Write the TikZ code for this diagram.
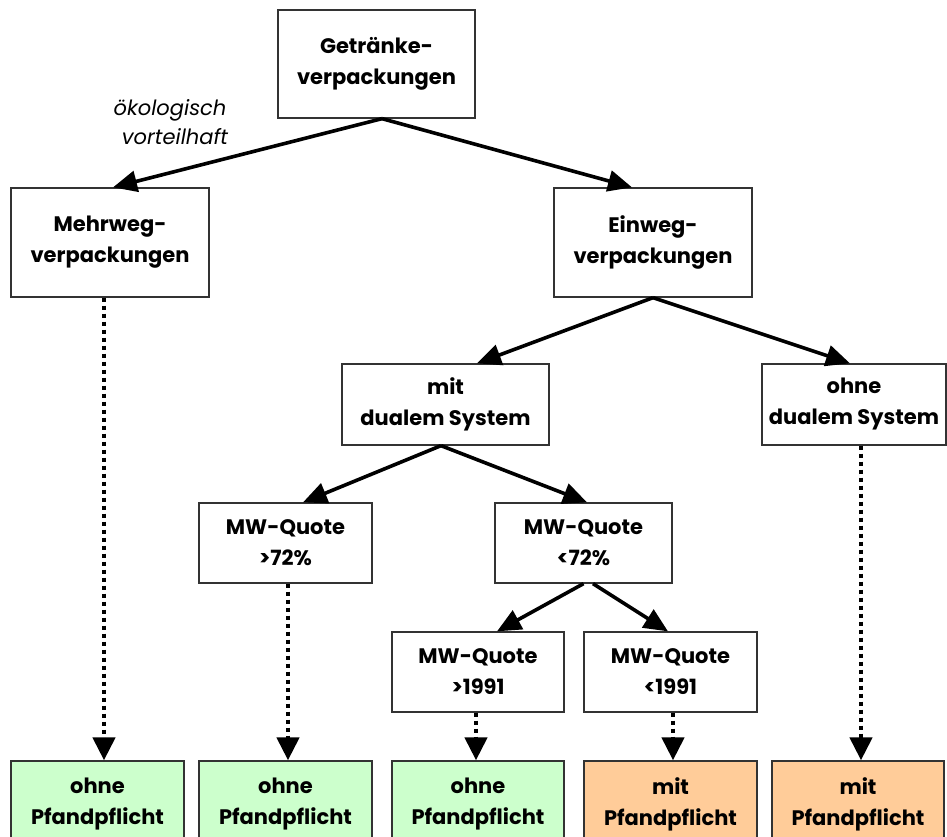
\documentclass[tikz,border=0pt]{standalone}
\usepackage{fontspec}
\setmainfont{Poppins}
\usetikzlibrary{arrows.meta}
\definecolor{pfgruen}{HTML}{CCFFCC}
\definecolor{pforange}{HTML}{FFCC99}
\begin{document}
\begin{tikzpicture}[x=1pt,y=-1pt,
  box/.style={draw=black!80, line width=1.3pt, align=center, inner sep=0pt,
    font=\fontsize{21}{31}\selectfont\bfseries},
  arr/.style={line width=3.6pt, -{Triangle[length=24pt,width=21pt]}},
  dotarr/.style={line width=4.5pt, dash pattern=on 4pt off 4pt, -{Triangle[length=23pt,width=22pt]}}]
\useasboundingbox (0,0) rectangle (947,837);
\clip (0,0) rectangle (947,837);
\fill[white] (0,0) rectangle (947,837);

\node[box, minimum width=197pt, minimum height=108pt] (top) at (376.5,64) {Getränke-\\verpackungen};
\node[box, minimum width=198pt, minimum height=109pt] (mehr) at (110,242.5) {Mehrweg-\\verpackungen};
\node[box, minimum width=198pt, minimum height=109pt] (ein) at (653,242.5) {Einweg-\\verpackungen};
\node[box, minimum width=207pt, minimum height=81pt] (mitd) at (445.5,404.5) {mit\\dualem System};
\node[box, minimum width=184pt, minimum height=81pt] (ohned) at (854,404.5) {ohne\\dualem System};
\node[box, minimum width=173pt, minimum height=80pt] (mwa) at (285.5,543) {MW-Quote\\>72\%};
\node[box, minimum width=177pt, minimum height=80pt] (mwb) at (583.5,543) {MW-Quote\\<72\%};
\node[box, minimum width=172pt, minimum height=80pt] (mwc) at (478,672) {MW-Quote\\>1991};
\node[box, minimum width=173pt, minimum height=80pt] (mwd) at (670.5,672) {MW-Quote\\<1991};

\node[box, fill=pfgruen, minimum width=173pt, minimum height=86pt] (b1) at (97.5,804) {ohne\\Pfandpflicht};
\node[box, fill=pfgruen, minimum width=173pt, minimum height=86pt] (b2) at (285.5,804) {ohne\\Pfandpflicht};
\node[box, fill=pfgruen, minimum width=172pt, minimum height=86pt] (b3) at (478,804) {ohne\\Pfandpflicht};
\node[box, fill=pforange, minimum width=173pt, minimum height=86pt] (b4) at (670.5,804) {mit\\Pfandpflicht};
\node[box, fill=pforange, minimum width=172pt, minimum height=86pt] (b5) at (858,804) {mit\\Pfandpflicht};

\node[align=center, font=\fontsize{21}{29}\selectfont\itshape] (lbl) at (170,122) {ökologisch\\\hspace*{10pt}vorteilhaft};

\draw[arr] ([xshift=5.5pt]top.south) -- ([xshift=3pt]mehr.north);
\draw[arr] ([xshift=5.5pt]top.south) -- ([xshift=-21pt]ein.north);
\draw[arr] (ein.south) -- ([xshift=31.5pt]mitd.north);
\draw[arr] (ein.south) -- ([xshift=-4pt]ohned.north);
\draw[arr] ([xshift=-4.5pt]mitd.south) -- ([xshift=17.5pt]mwa.north);
\draw[arr] ([xshift=-4.5pt]mitd.south) -- ([xshift=3.5pt]mwb.north);
\draw[arr] (mwb.south) -- ([xshift=19pt]mwc.north);
\draw[arr] ([xshift=9.5pt]mwb.south) -- ([xshift=-2.5pt]mwd.north);

\draw[dotarr] ([xshift=-6pt]mehr.south) -- ([xshift=6.5pt]b1.north);
\draw[dotarr] ([xshift=2.5pt]mwa.south) -- ([xshift=2.5pt]b2.north);
\draw[dotarr] ([xshift=-2pt]mwc.south) -- ([xshift=-2pt]b3.north);
\draw[dotarr] ([xshift=2.5pt]mwd.south) -- ([xshift=2.5pt]b4.north);
\draw[dotarr] ([xshift=7pt]ohned.south) -- ([xshift=3pt]b5.north);
\end{tikzpicture}
\end{document}
